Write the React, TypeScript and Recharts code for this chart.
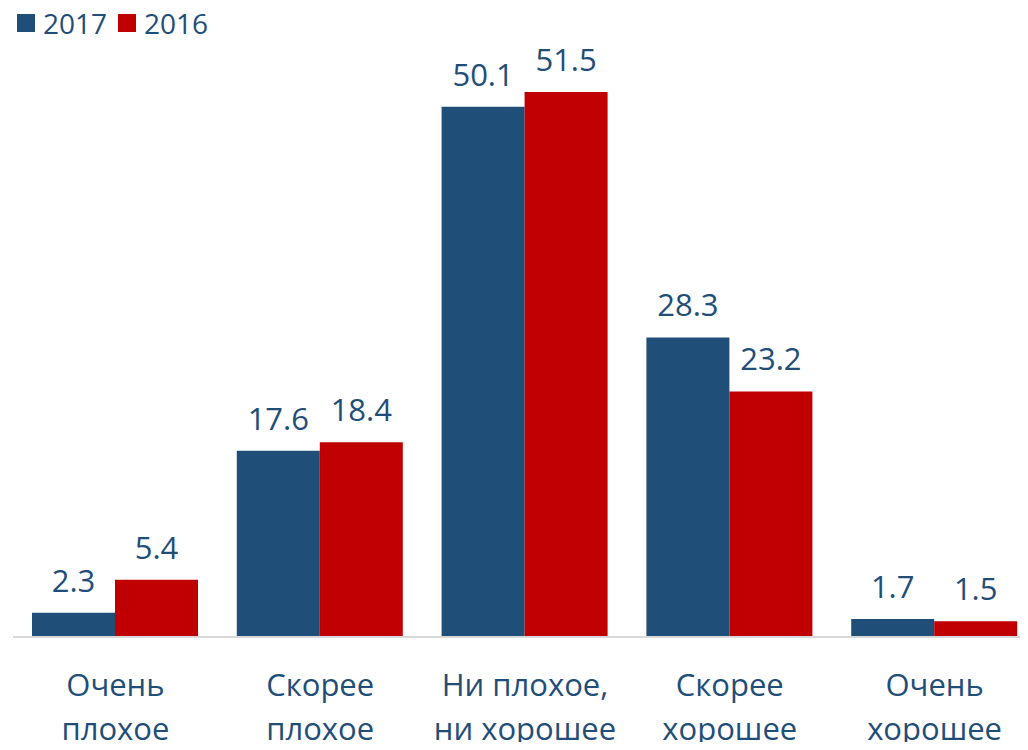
import { BarChart, Bar, XAxis, YAxis, LabelList } from "recharts";

const categories = [
  "Очень\nплохое",
  "Скорее\nплохое",
  "Ни плохое,\nни хорошее",
  "Скорее\nхорошее",
  "Очень\nхорошее",
];
const values2017 = [2.3, 17.6, 50.1, 28.3, 1.7];
const values2016 = [5.4, 18.4, 51.5, 23.2, 1.5];

const BLUE = "#1F4E79";
const RED = "#C00000";
const TEXT = "#1F4E79";
const FONT = "'Open Sans', sans-serif";

const data = categories.map((name, i) => ({
  name,
  y2017: values2017[i],
  y2016: values2016[i],
}));

function CategoryTick({ x, y, payload }: any) {
  const lines = String(payload.value).split("\n");
  return (
    <text x={x} y={y} textAnchor="middle" fill={TEXT} fontSize={31} fontFamily={FONT}>
      {lines.map((line, i) => (
        <tspan key={i} x={x} y={y + 51 + i * 44}>
          {line}
        </tspan>
      ))}
    </text>
  );
}

function ValueLabel({ x, y, width, value }: any) {
  return (
    <text
      x={x + width / 2}
      y={y - 21}
      textAnchor="middle"
      fill={TEXT}
      fontSize={31}
      fontFamily={FONT}
    >
      {Number(value).toFixed(1)}
    </text>
  );
}

function LegendBox() {
  const item = (color: string, label: string) => (
    <div style={{ display: "flex", alignItems: "center", marginRight: 11 }}>
      <div style={{ width: 18, height: 18, background: color, marginRight: 8 }} />
      <span style={{ fontSize: 28, color: TEXT, lineHeight: "28px" }}>{label}</span>
    </div>
  );
  return (
    <div
      style={{
        position: "absolute",
        left: 17,
        top: 9,
        display: "flex",
        fontFamily: FONT,
      }}
    >
      {item(BLUE, "2017")}
      {item(RED, "2016")}
    </div>
  );
}

export default function App() {
  return (
    <div
      style={{
        position: "relative",
        margin: -8,
        width: 1028,
        height: 750,
        overflow: "hidden",
        background: "#fff",
      }}
    >
      <BarChart
        width={1040}
        height={750}
        data={data}
        margin={{ top: 2, right: 3, bottom: 0, left: 13 }}
        barCategoryGap={19}
        barGap={0}
      >
        <YAxis hide domain={[0, 60]} />
        <XAxis
          dataKey="name"
          height={113}
          axisLine={{ stroke: "#D9D9D9", strokeWidth: 2 }}
          tickLine={false}
          interval={0}
          tick={<CategoryTick />}
        />
        <Bar dataKey="y2017" fill={BLUE} isAnimationActive={false}>
          <LabelList dataKey="y2017" content={<ValueLabel />} />
        </Bar>
        <Bar dataKey="y2016" fill={RED} isAnimationActive={false}>
          <LabelList dataKey="y2016" content={<ValueLabel />} />
        </Bar>
      </BarChart>
      <LegendBox />
    </div>
  );
}
